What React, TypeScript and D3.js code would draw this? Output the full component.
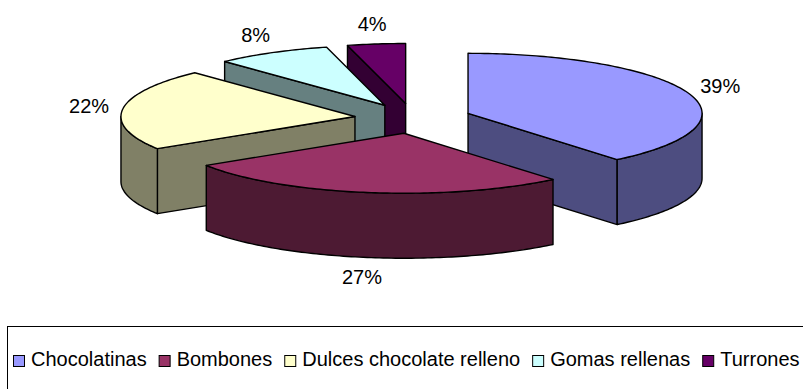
import React, { useEffect, useRef } from "react";
import * as d3 from "d3";

// Sales share by product family
const categories = ["Chocolatinas", "Bombones", "Dulces chocolate relleno", "Gomas rellenas", "Turrones"];
const values = [39, 27, 22, 8, 4];
const colors = ["#9999FF", "#993366", "#FFFFCC", "#CCFFFF", "#660066"];

const WIDTH = 803;
const HEIGHT = 389;
const FONT = "'Liberation Sans', Arial, Helvetica, sans-serif";

type Pt = [number, number];

export default function App() {
  const ref = useRef<SVGSVGElement>(null);

  useEffect(() => {
    const svg = d3.select(ref.current);
    svg.selectAll("*").remove();

    // tilted (elliptical) pie geometry
    const cx = 413;
    const cy = 118.4;
    const rx = 234;
    const ry = 60;
    const depth = 65;
    const explode = 0.25;
    const labelRx = 268;
    const labelRy = 80;

    const total = d3.sum(values);
    const arcs = d3.pie<number>().sort(null).value((d) => d)(values);
    const shade = (c: string) => {
      const r = d3.rgb(c);
      return d3.rgb(r.r * 0.5, r.g * 0.5, r.b * 0.5).formatHex();
    };
    const line = d3.line<Pt>();

    const slices = arcs.map((a, i) => {
      const mid = (a.startAngle + a.endAngle) / 2;
      return {
        i,
        a0: a.startAngle,
        a1: a.endAngle,
        mid,
        ox: cx + explode * rx * Math.sin(mid),
        oy: cy - explode * ry * Math.cos(mid),
      };
    });

    const rim = (s: { ox: number; oy: number }, t: number, dz = 0): Pt => [
      s.ox + rx * Math.sin(t),
      s.oy - ry * Math.cos(t) + dz,
    ];
    const arcPts = (s: any, t0: number, t1: number, dz = 0): Pt[] => {
      const n = Math.max(2, Math.ceil(((t1 - t0) * 180) / Math.PI));
      return d3.range(n + 1).map((k) => rim(s, t0 + ((t1 - t0) * k) / n, dz));
    };

    const pie = svg.append("g").attr("stroke", "#000").attr("stroke-width", 1.4).attr("stroke-linejoin", "round");

    // paint from back to front
    const order = [...slices].sort((p, q) => p.oy - q.oy);
    const eps = 1e-6;
    order.forEach((s) => {
      const top = colors[s.i];
      const side = shade(top);
      const g = pie.append("g");
      const c: Pt = [s.ox, s.oy];
      const cb: Pt = [s.ox, s.oy + depth];

      // radial side faces
      if (Math.sin(s.a0) < -eps) {
        const p = rim(s, s.a0);
        const pb = rim(s, s.a0, depth);
        g.append("path").attr("d", line([c, p, pb, cb])! + "Z").attr("fill", side);
      }
      if (Math.sin(s.a1) > eps) {
        const p = rim(s, s.a1);
        const pb = rim(s, s.a1, depth);
        g.append("path").attr("d", line([c, p, pb, cb])! + "Z").attr("fill", side);
      }

      // outer wall on the front half
      const w0 = Math.max(s.a0, Math.PI / 2);
      const w1 = Math.min(s.a1, (3 * Math.PI) / 2);
      if (w1 > w0) {
        const pts = [...arcPts(s, w0, w1), ...arcPts(s, w0, w1, depth).reverse()];
        g.append("path").attr("d", line(pts)! + "Z").attr("fill", side);
      }

      // top face
      g.append("path")
        .attr("d", line([c, ...arcPts(s, s.a0, s.a1)])! + "Z")
        .attr("fill", top);
    });

    // percentage labels
    const labels = svg.append("g").attr("font-family", FONT).attr("font-size", 20).attr("fill", "#000");
    slices.forEach((s) => {
      const x = s.ox + labelRx * Math.sin(s.mid);
      let y = s.oy - labelRy * Math.cos(s.mid);
      if (Math.cos(s.mid) < 0) y += depth;
      labels
        .append("text")
        .attr("x", x)
        .attr("y", y + 7)
        .attr("text-anchor", "middle")
        .text(`${Math.round((values[s.i] / total) * 100)}%`);
    });

    // legend
    const legend = svg.append("g");
    legend
      .append("rect")
      .attr("x", 7.5)
      .attr("y", 326.5)
      .attr("width", WIDTH)
      .attr("height", 120)
      .attr("fill", "none")
      .attr("stroke", "#000")
      .attr("stroke-width", 1);

    let x = 13;
    categories.forEach((name, i) => {
      legend
        .append("rect")
        .attr("x", x + 0.5)
        .attr("y", 355.5)
        .attr("width", 11)
        .attr("height", 11)
        .attr("fill", colors[i])
        .attr("stroke", "#000")
        .attr("stroke-width", 1);
      const t = legend
        .append("text")
        .attr("x", x + 18)
        .attr("y", 366)
        .attr("font-family", FONT)
        .attr("font-size", 20)
        .attr("fill", "#000")
        .text(name);
      const w = (t.node() as SVGTextElement).getComputedTextLength();
      x = x + 18 + w + 12;
    });
  }, []);

  return (
    <svg
      ref={ref}
      width={WIDTH}
      height={HEIGHT}
      style={{ position: "absolute", left: 0, top: 0, background: "#fff" }}
    />
  );
}
